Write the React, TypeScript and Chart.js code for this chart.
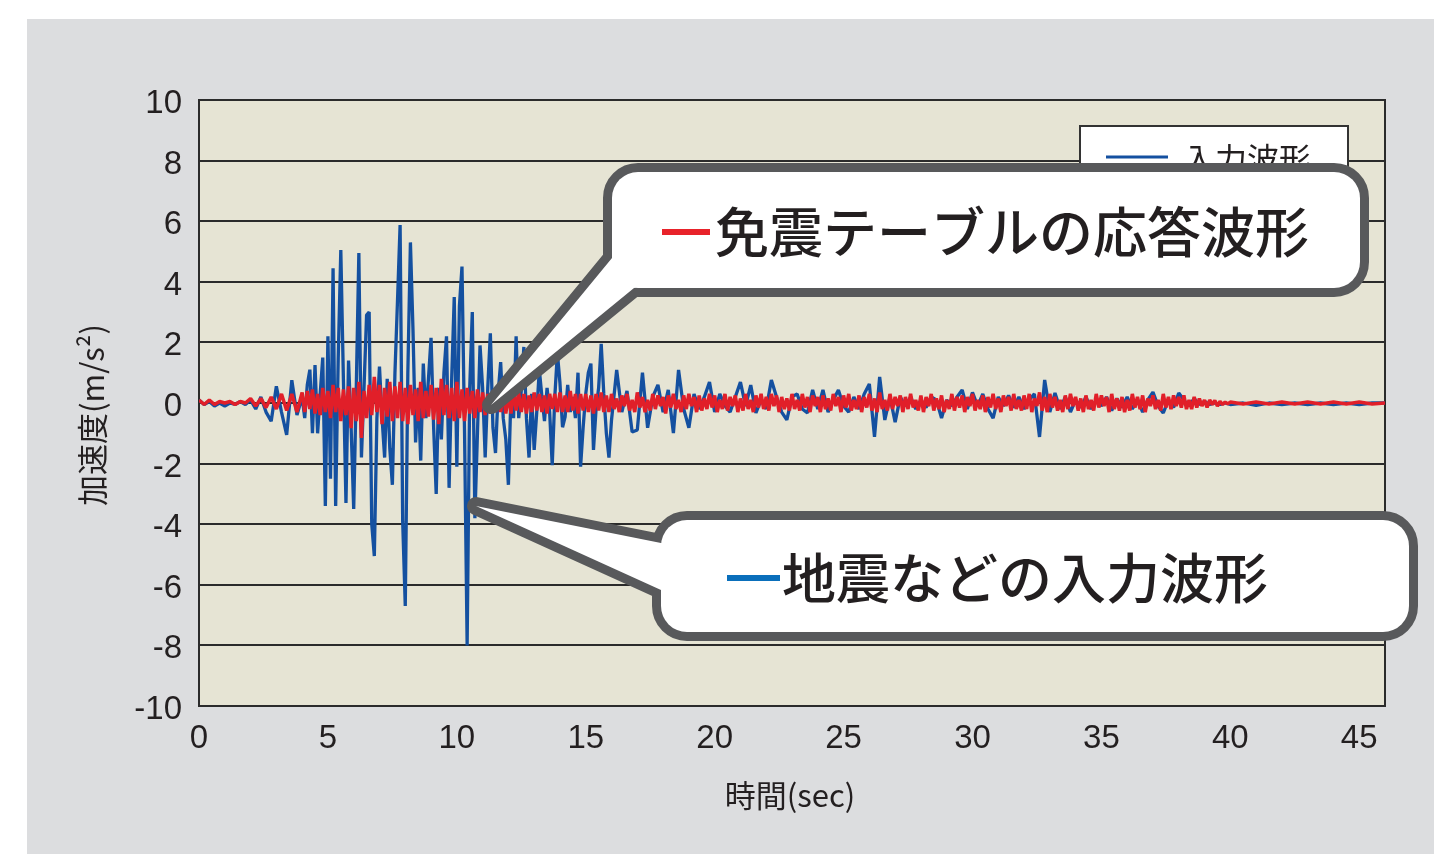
import { useEffect, useRef } from "react";
import { Chart, registerables } from "chart.js";
Chart.register(...registerables);

// ---- time segments (s): start of each block of samples and its sampling step ----
const SEG_STARTS = [0, 4, 16, 40];
const BLUE_STEPS = [0.2, 0.1, 0.2, 0.5];
const RED_STEPS = [0.2, 0.1, 0.1, 0.5];

// ---- 入力波形 (blue) ----
const blueA = [0.1, -0.05, 0.05, -0.1, 0.0, -0.1, 0.0, -0.05, 0.05, -0.05, 0.1, -0.2, 0.2, -0.3, -0.6, 0.55, -0.3, -1.05, 0.75, -0.4];
const blueB = [
  0.2, -0.5, 0.6, 1.1, -1.0, 1.25, -1.0, 0.3, 1.5, -3.4,
  2.2, -2.5, 4.45, -3.4, 1.5, 5.05, 0.8, -3.3, 1.4, -0.8,
  -3.5, 0.5, 4.95, -1.8, 0.5, 2.9, 3.0, -4.0, -5.05, -0.5,
  1.2, -0.5, -1.8, 0.8, -1.5, -2.7, 1.0, 3.4, 5.87, -3.9,
  -6.7, 1.0, 5.3, 2.4, -1.3, 0.5, -1.9, 1.3, -0.5, 0.8,
  2.15, -0.8, -3.0, 0.5, -1.2, 1.0, 2.2, -2.8, 0.8, 3.5,
  -2.1, 3.2, 4.5, -1.0, -8.0, 0.5, 3.0, -3.8, -1.0, 1.9,
  0.5, -1.8, 0.5, 2.3, -0.8, -1.65, 0.3, 1.35, -0.5, -1.2,
  -2.7, 0.3, -0.5, 2.2, -0.5, 0.4, 1.85, -0.5, -1.8, 0.3,
  -1.55, -0.3, 1.1, 0.2, -0.6, 0.5, -0.3, -2.05, 0.2, 1.65,
  0.66, -0.8, -0.46, 0.6, -0.3, 0.2, -0.5, 1.0, -2.1, -0.8,
  0.3, 1.0, 1.3, -1.55, -0.2, 0.5, 1.95, 0.3, -1.0, -1.8,
];
const blueC = [
  -0.56, 1.09, -0.3, 0.4, -0.96, -0.89, 1.0, -0.82, 0.2, 0.6,
  -0.3, 0.43, -0.99, 1.09, -0.2, -0.82, 0.3, -0.2, 0.2, 0.69,
  -0.3, 0.3, -0.1, -0.3, 0.2, 0.69, -0.1, 0.59, -0.33, 0.1,
  -0.2, 0.76, 0.2, -0.3, -0.56, 0.2, 0.3, -0.2, -0.33, 0.43,
  -0.2, 0.43, -0.3, 0.1, 0.43, -0.1, -0.3, 0.2, -0.2, 0.3,
  0.63, -1.12, 0.86, -0.56, 0.2, -0.63, 0.2, -0.1, 0.2, -0.2,
  0.1, -0.15, 0.2, 0.1, -0.5, 0.1, -0.1, 0.2, 0.43, -0.2,
  0.35, -0.1, 0.3, -0.2, -0.5, 0.2, -0.1, 0.25, -0.15, 0.2,
  -0.2, 0.1, 0.3, -1.12, 0.76, -0.3, 0.33, -0.2, 0.2, -0.3,
  0.1, -0.15, 0.2, -0.2, 0.1, -0.1, 0.2, -0.25, 0.15, -0.15,
  0.2, -0.2, 0.1, -0.3, 0.1, 0.36, -0.1, -0.33, 0.1, -0.15,
  0.33, 0.1, -0.1, 0.15, -0.05, 0.05, -0.05, 0.0, -0.05, 0.0,
];
const blueD = [-0.05, 0, -0.08, 0, -0.05, 0, -0.05, 0, -0.05, 0, -0.05, 0, 0];

// ---- 免震テーブルの応答波形 (red) ----
const redA = [0.1, -0.05, 0.1, -0.05, 0.05, 0.0, 0.05, -0.05, 0.05, 0.0, 0.15, -0.1, 0.15, -0.15, 0.2, -0.2, 0.3, -0.25, 0.3, -0.3];
const redB = [
  0.35, -0.3, 0.4, -0.2, 0.45, -0.35, 0.3, -0.4, 0.5, -0.3,
  0.4, -0.5, 0.6, -0.3, 0.5, -0.6, 0.45, -0.4, 0.55, -0.83,
  0.5, -0.6, 0.7, -1.15, 0.4, -0.5, 0.6, -0.4, 0.86, -0.3,
  0.6, -0.7, 0.5, -0.45, 0.7, -0.6, 0.55, -0.5, 0.7, -0.6,
  0.5, -0.7, 0.6, -0.4, 0.45, -0.6, 0.7, -0.5, 0.4, -0.45,
  0.6, -0.55, 0.5, -0.7, 0.8, -0.4, 0.6, -0.5, 0.5, -0.6,
  0.7, -0.5, 0.45, -0.6, 0.5, -0.35, 0.4, -0.5, 0.45, -0.3,
  0.35, -0.4, 0.3, -0.35, 0.4, -0.3, 0.35, -0.3, 0.4, -0.35,
  0.3, -0.35, 0.4, -0.25, 0.35, -0.3, 0.3, -0.35, 0.25, -0.3,
  0.35, -0.25, 0.3, -0.3, 0.25, -0.35, 0.3, -0.2, 0.3, -0.3,
  0.35, -0.3, 0.25, -0.3, 0.4, -0.25, 0.3, -0.35, 0.3, -0.25,
  0.3, -0.3, 0.25, -0.35, 0.3, -0.25, 0.35, -0.3, 0.25, -0.3,
];
const redC = [
  0.3, -0.2, 0.15, -0.3, 0.25, -0.1, 0.3, -0.25, 0.1, -0.3,
  0.35, -0.15, 0.2, -0.3, 0.1, -0.25, 0.3, -0.2, 0.25, -0.1,
  0.2, -0.35, 0.25, -0.15, 0.3, -0.2, 0.1, -0.3, 0.25, -0.2,
  0.3, -0.1, 0.2, -0.3, 0.25, -0.25, 0.15, -0.2, 0.3, -0.15,
  0.25, -0.3, 0.1, -0.2, 0.3, -0.25, 0.2, -0.1, 0.25, -0.3,
  0.15, -0.25, 0.3, -0.2, 0.1, -0.3, 0.25, -0.15, 0.3, -0.2,
  0.2, -0.25, 0.3, -0.1, 0.25, -0.3, 0.2, -0.2, 0.15, -0.25,
  0.3, -0.2, 0.1, -0.25, 0.3, -0.15, 0.2, -0.3, 0.25, -0.1,
  0.2, -0.3, 0.25, -0.2, 0.15, -0.25, 0.3, -0.1, 0.2, -0.3,
  0.25, -0.15, 0.3, -0.25, 0.1, -0.2, 0.25, -0.3, 0.2, -0.15,
  0.3, -0.25, 0.15, -0.3, 0.35, -0.2, 0.1, -0.25, 0.3, -0.2,
  0.2, -0.1, 0.25, -0.3, 0.2, -0.2, 0.3, -0.15, 0.1, -0.25,
  0.25, -0.3, 0.2, -0.1, 0.3, -0.25, 0.15, -0.2, 0.25, -0.3,
  0.1, -0.2, 0.3, -0.25, 0.2, -0.15, 0.25, -0.3, 0.2, -0.1,
  0.3, -0.25, 0.1, -0.2, 0.25, -0.3, 0.2, -0.15, 0.3, -0.2,
  0.15, -0.3, 0.25, -0.1, 0.2, -0.25, 0.3, -0.2, 0.1, -0.25,
  0.25, -0.2, 0.3, -0.3, 0.15, -0.1, 0.35, -0.25, 0.2, -0.3,
  0.3, -0.15, 0.2, -0.25, 0.1, -0.3, 0.25, -0.2, 0.3, -0.1,
  0.2, -0.25, 0.15, -0.3, 0.25, -0.2, 0.1, -0.25, 0.3, -0.15,
  0.25, -0.1, 0.2, -0.3, 0.3, -0.2, 0.15, -0.25, 0.2, -0.3,
  0.1, -0.25, 0.3, -0.15, 0.2, -0.2, 0.25, -0.3, 0.15, -0.1,
  0.25, -0.2, 0.1, -0.25, 0.3, -0.15, 0.2, -0.2, 0.25, -0.1,
  0.2, -0.15, 0.25, -0.2, 0.1, -0.2, 0.2, -0.15, 0.15, -0.1,
  0.1, -0.15, 0.1, -0.05, 0.08, -0.1, 0.05, -0.05, 0.03, -0.03,
];
const redD = [0.03, -0.03, 0.03, -0.03, 0.03, -0.03, 0.03, -0.03, 0.03, -0.03, 0.03, -0.03, 0];

// ---- axes ----
const X_MIN = 0;
const X_MAX = 46;
const X_TICKS = [0, 5, 10, 15, 20, 25, 30, 35, 40, 45];
const Y_MIN = -10;
const Y_MAX = 10;
const Y_STEP = 2;

// ---- texts ----
const X_TITLE = "時間(sec)";
const Y_TITLE = "加速度(m/s²)";
const LEGEND_LABEL = "入力波形";
const CALLOUT_RED = "免震テーブルの応答波形";
const CALLOUT_BLUE = "地震などの入力波形";

const BLUE = "#1450a0";
const RED = "#e11f29";

function toPoints(segs: number[][], steps: number[]) {
  const pts: { x: number; y: number }[] = [];
  segs.forEach((vals, s) => {
    vals.forEach((v, i) => {
      pts.push({ x: +(SEG_STARTS[s] + i * steps[s]).toFixed(3), y: v });
    });
  });
  return pts;
}

function rr(ctx: CanvasRenderingContext2D, x1: number, y1: number, x2: number, y2: number, r: number) {
  ctx.moveTo(x1 + r, y1);
  ctx.lineTo(x2 - r, y1);
  ctx.arcTo(x2, y1, x2, y1 + r, r);
  ctx.lineTo(x2, y2 - r);
  ctx.arcTo(x2, y2, x2 - r, y2, r);
  ctx.lineTo(x1 + r, y2);
  ctx.arcTo(x1, y2, x1, y2 - r, r);
  ctx.lineTo(x1, y1 + r);
  ctx.arcTo(x1, y1, x1 + r, y1, r);
  ctx.closePath();
}

function callout(
  ctx: CanvasRenderingContext2D,
  box: [number, number, number, number],
  wedge: [number, number][],
) {
  const [x1, y1, x2, y2] = box;
  ctx.save();
  ctx.strokeStyle = "#58595b";
  ctx.lineWidth = 18;
  ctx.lineJoin = "round";
  ctx.beginPath();
  wedge.forEach(([x, y], i) => (i ? ctx.lineTo(x, y) : ctx.moveTo(x, y)));
  ctx.closePath();
  ctx.stroke();
  ctx.beginPath();
  rr(ctx, x1, y1, x2, y2, 26);
  ctx.stroke();
  ctx.fillStyle = "#ffffff";
  ctx.fill();
  ctx.beginPath();
  wedge.forEach(([x, y], i) => (i ? ctx.lineTo(x, y) : ctx.moveTo(x, y)));
  ctx.closePath();
  ctx.fill();
  ctx.restore();
}

const decorPlugin = {
  id: "decor",
  beforeDraw(chart: any) {
    const { ctx, chartArea: a } = chart;
    ctx.save();
    ctx.fillStyle = "#e6e4d4";
    ctx.fillRect(a.left, a.top, a.right - a.left, a.bottom - a.top);
    ctx.restore();
  },
  beforeDatasetsDraw(chart: any) {
    const { ctx, chartArea: a } = chart;
    ctx.save();
    ctx.strokeStyle = "#2b2b2b";
    ctx.lineWidth = 2;
    ctx.strokeRect(a.left, a.top, a.right - a.left, a.bottom - a.top);
    ctx.restore();
  },
  afterDraw(chart: any) {
    const { ctx } = chart;
    ctx.save();
    // axis titles
    ctx.fillStyle = "#231f20";
    ctx.font = "31px 'Noto Sans CJK JP'";
    ctx.textAlign = "center";
    ctx.textBaseline = "middle";
    ctx.fillText(X_TITLE, 790, 795);
    ctx.save();
    ctx.translate(92, 415);
    ctx.rotate(-Math.PI / 2);
    ctx.fillText(Y_TITLE, 0, 0);
    ctx.restore();

    // legend box (partly hidden behind callout)
    ctx.fillStyle = "#ffffff";
    ctx.fillRect(1080, 126, 268, 80);
    ctx.strokeStyle = "#333333";
    ctx.lineWidth = 2;
    ctx.strokeRect(1080, 126, 268, 80);
    ctx.strokeStyle = BLUE;
    ctx.lineWidth = 3;
    ctx.beginPath();
    ctx.moveTo(1106, 157);
    ctx.lineTo(1168, 157);
    ctx.stroke();
    ctx.fillStyle = "#231f20";
    ctx.font = "32px 'Noto Sans CJK JP'";
    ctx.textAlign = "left";
    ctx.fillText(LEGEND_LABEL, 1183, 159);

    // callouts
    callout(ctx, [612, 172, 1360, 288], [
      [491, 405], [612, 258], [660, 250], [660, 280], [634, 288],
    ]);
    callout(ctx, [661, 520, 1409, 632], [
      [476, 506], [661, 543], [700, 543], [700, 590], [661, 590],
    ]);

    ctx.fillStyle = "#e8222a";
    ctx.fillRect(662, 229, 48, 6);
    ctx.fillStyle = "#0a6fbb";
    ctx.fillRect(727, 575, 53, 6);

    ctx.fillStyle = "#231f20";
    ctx.font = "500 54px 'Noto Sans CJK JP'";
    ctx.textAlign = "left";
    ctx.textBaseline = "middle";
    ctx.fillText(CALLOUT_RED, 715, 232);
    ctx.fillText(CALLOUT_BLUE, 782, 578);
    ctx.restore();
  },
};

export default function App() {
  const ref = useRef<HTMLCanvasElement>(null);
  useEffect(() => {
    document.body.style.margin = "0";
    const chart = new Chart(ref.current!, {
      type: "line",
      data: {
        datasets: [
          {
            label: CALLOUT_RED,
            data: toPoints([redA, redB, redC, redD], RED_STEPS),
            borderColor: RED,
            borderWidth: 3.5,
            pointRadius: 0,
            tension: 0,
            borderJoinStyle: "bevel",
          },
          {
            label: LEGEND_LABEL,
            data: toPoints([blueA, blueB, blueC, blueD], BLUE_STEPS),
            borderColor: BLUE,
            borderWidth: 3.3,
            pointRadius: 0,
            tension: 0,
            borderJoinStyle: "bevel",
          },
        ],
      },
      options: {
        animation: false,
        responsive: false,
        events: [],
        layout: { padding: { left: 0, right: 49, top: 100, bottom: 0 } },
        plugins: { legend: { display: false }, tooltip: { enabled: false } },
        scales: {
          x: {
            type: "linear",
            min: X_MIN,
            max: X_MAX,
            afterBuildTicks: (s: any) => {
              s.ticks = X_TICKS.map((v) => ({ value: v }));
            },
            afterFit: (s: any) => {
              s.height = 148;
            },
            ticks: {
              color: "#231f20",
              font: { family: "'Liberation Sans'", size: 33 },
              padding: 13,
              maxRotation: 0,
              autoSkip: false,
            },
            grid: { display: false, drawTicks: false },
            border: { display: true, color: "#2b2b2b", width: 2 },
          },
          y: {
            min: Y_MIN,
            max: Y_MAX,
            afterFit: (s: any) => {
              s.width = 199;
            },
            ticks: {
              stepSize: Y_STEP,
              color: "#231f20",
              font: { family: "'Liberation Sans'", size: 33 },
              padding: 17,
              labelOffset: 4,
            },
            grid: { color: "#2b2b2b", lineWidth: 2, drawTicks: false },
            border: { display: true, color: "#2b2b2b", width: 2 },
          },
        },
      },
      plugins: [decorPlugin],
    });
    return () => chart.destroy();
  }, []);
  return (
    <div style={{ position: "relative", width: 1434, height: 854, background: "#ffffff", overflow: "hidden" }}>
      <div style={{ position: "absolute", left: 27, top: 19, width: 1407, height: 835, background: "#dcdddf" }} />
      <canvas ref={ref} width={1434} height={854} style={{ position: "absolute", left: 0, top: 0, width: 1434, height: 854 }} />
    </div>
  );
}
